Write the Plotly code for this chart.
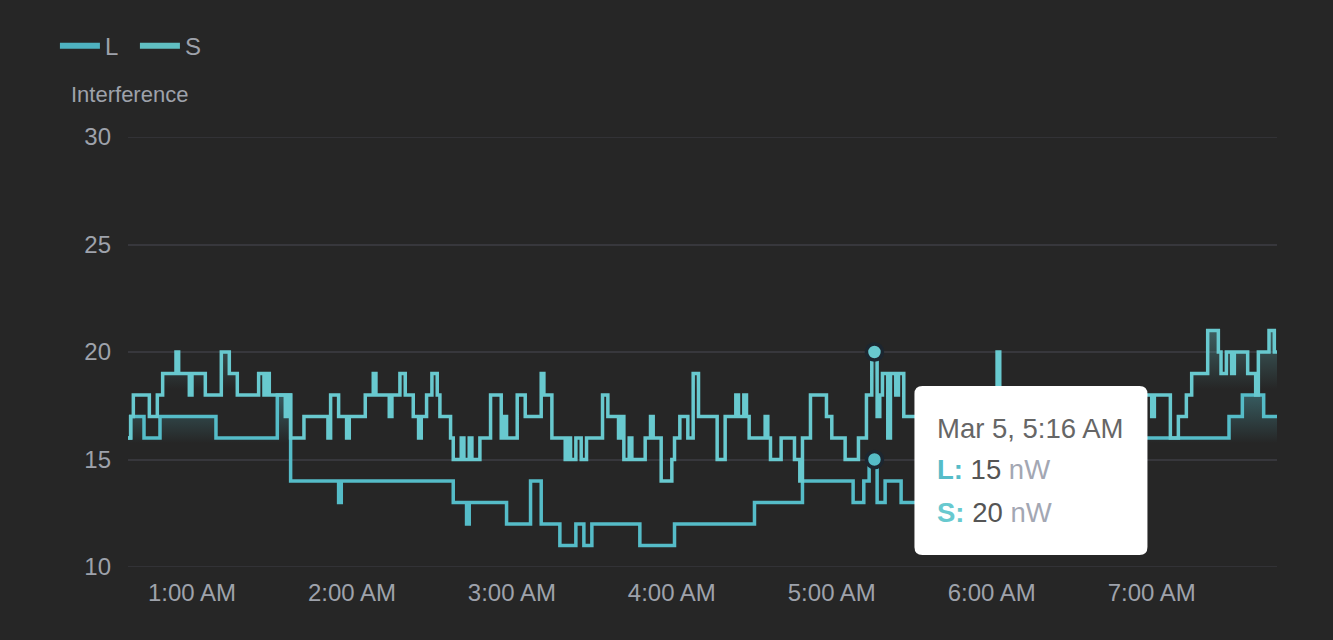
import pandas as pd
import plotly.graph_objects as go

day = "2024-03-05 "

# L series: time of each change and the new value
l_times = ["00:36", "00:37", "00:42", "00:48", "01:09", "01:32", "01:37", "01:55", "01:56",
           "02:38", "02:43", "02:44", "02:58", "03:07", "03:11", "03:18", "03:24", "03:27",
           "03:30", "03:48", "04:01", "04:31", "04:49", "05:08", "05:12", "05:14", "05:17",
           "05:20", "05:26", "05:40", "05:55", "06:10", "07:29", "07:34", "07:42", "07:47"]
l_values = [16, 17, 16, 17, 16, 18, 14, 13, 14,
            13, 12, 13, 12, 14, 12, 11, 12, 11,
            12, 11, 12, 13, 14, 13, 14, 15, 13,
            14, 13, 14, 15, 16, 17, 18, 17, 17]

# S series
s_times = ["00:36", "00:37", "00:38", "00:44", "00:47", "00:49", "00:54", "00:55", "00:59",
           "01:00", "01:05", "01:11", "01:14", "01:17", "01:25", "01:27", "01:28", "01:29",
           "01:35", "01:36", "01:37", "01:42", "01:51", "01:52", "01:55", "01:58", "01:59",
           "02:05", "02:08", "02:09", "02:14", "02:15", "02:18", "02:20", "02:23", "02:25",
           "02:26", "02:28", "02:30", "02:32", "02:33", "02:37", "02:38", "02:41", "02:42",
           "02:44", "02:45", "02:48", "02:52", "02:56", "02:57", "02:58", "03:02", "03:05",
           "03:11", "03:12", "03:15", "03:20", "03:21", "03:22", "03:24", "03:26", "03:28",
           "03:34", "03:36", "03:40", "03:41", "03:42", "03:44", "03:45", "03:50", "03:52",
           "03:53", "03:56", "04:00", "04:01", "04:03", "04:06", "04:08", "04:10", "04:17",
           "04:20", "04:24", "04:25", "04:27", "04:28", "04:29", "04:35", "04:36", "04:37",
           "04:41", "04:46", "04:48", "04:49", "04:52", "04:58", "05:00", "05:05", "05:10",
           "05:13", "05:15", "05:17", "05:18", "05:19", "05:21", "05:22", "05:24", "05:25",
           "05:27", "05:36", "05:45", "05:52", "06:02", "06:03", "06:15", "06:28", "06:45",
           "07:00", "07:01", "07:07", "07:10", "07:13", "07:15", "07:21", "07:25", "07:26",
           "07:28", "07:30", "07:31", "07:36", "07:39", "07:40", "07:44", "07:46", "07:47"]
s_values = [16, 17, 18, 17, 18, 19, 20, 19, 18,
            19, 18, 20, 19, 18, 19, 18, 19, 18,
            17, 18, 16, 17, 16, 18, 17, 16, 17,
            18, 19, 18, 17, 18, 19, 18, 17, 16,
            17, 18, 19, 18, 17, 16, 15, 16, 15,
            16, 15, 16, 18, 16, 17, 16, 18, 17,
            19, 18, 16, 15, 16, 15, 16, 15, 16,
            18, 17, 16, 17, 15, 16, 15, 16, 17,
            16, 14, 15, 16, 17, 16, 19, 17, 15,
            17, 18, 17, 18, 17, 16, 17, 16, 15,
            16, 15, 14, 16, 18, 17, 16, 15, 16,
            18, 20, 17, 18, 19, 16, 19, 18, 19,
            17, 16, 17, 16, 20, 17, 16, 17, 18,
            17, 18, 16, 17, 18, 19, 21, 20, 19,
            20, 19, 20, 19, 18, 20, 21, 20, 20]

y_ticks = [10, 15, 20, 25, 30]
hover_time = "05:16"
unit = "nW"

l_color = "#55bcc8"
s_color = "#68c9cf"
text_color = "#9ea2ab"
bg = "#262626"
grid = "#37373c"
font = "Liberation Sans, Arial, sans-serif"

l_x = pd.to_datetime([day + t for t in l_times])
s_x = pd.to_datetime([day + t for t in s_times])
hover_x = pd.Timestamp(day + hover_time)
l_hover = pd.Series(l_values, index=l_x).asof(hover_x)
s_hover = pd.Series(s_values, index=s_x).asof(hover_x)


def fill_trace(x, y, color, start, stop):
    r, g, b = (int(color[i:i + 2], 16) for i in (1, 3, 5))
    return go.Scatter(
        x=x, y=y, mode="lines", line=dict(width=0, shape="hv"),
        fill="tozeroy",
        fillgradient=dict(type="vertical", start=start, stop=stop,
                          colorscale=[[0, f"rgba({r},{g},{b},0)"],
                                      [1, f"rgba({r},{g},{b},0.35)"]]),
        hoverinfo="skip", showlegend=False)


fig = go.Figure()
fig.add_trace(fill_trace(l_x, l_values, l_color, 15.8, max(l_values)))
fig.add_trace(fill_trace(s_x, s_values, s_color, 18.3, max(s_values)))
fig.add_trace(go.Scatter(x=l_x, y=l_values, name="L", mode="lines", showlegend=False,
                         line=dict(color=l_color, width=3.5, shape="hv")))
fig.add_trace(go.Scatter(x=s_x, y=s_values, name="S", mode="lines", showlegend=False,
                         line=dict(color=s_color, width=3.5, shape="hv")))
# legend entries drawn with a thicker line
for name, color in [("L", "#4eb2c0"), ("S", "#60bfc2")]:
    fig.add_trace(go.Scatter(x=[None], y=[None], name=name, mode="lines",
                             line=dict(color=color, width=6)))
fig.add_trace(go.Scatter(x=[hover_x, hover_x], y=[s_hover, l_hover], mode="markers",
                         marker=dict(size=16, color=[s_color, l_color],
                                     line=dict(color="#1c2630", width=3.5)),
                         showlegend=False, hoverinfo="skip"))

for v in (y_ticks[0], y_ticks[-1]):
    fig.add_hline(y=v, line=dict(color=grid, width=1.5), layer="below")

# tooltip box (rounded rect in pixels, anchored at the hovered point)
box = ("M 48,-34 L 265,-34 Q 273,-34 273,-42 L 273,-195 Q 273,-203 265,-203 "
       "L 48,-203 Q 40,-203 40,-195 L 40,-42 Q 40,-34 48,-34 Z")
fig.add_shape(type="path", xref="x", yref="y", xsizemode="pixel", ysizemode="pixel",
              xanchor=hover_x, yanchor=s_hover, path=box,
              fillcolor="white", line=dict(width=0), layer="above")

tip_lines = [
    f"<span style='color:#666666'>Mar 5, {hover_x.strftime('%-I:%M %p')}</span>",
    f"<b style='color:{l_color}'>L:</b><span style='color:#555555'> {l_hover} </span>"
    f"<span style='color:#a3a7b3'>{unit}</span>",
    f"<b style='color:{s_color}'>S:</b><span style='color:#555555'> {s_hover} </span>"
    f"<span style='color:#a3a7b3'>{unit}</span>",
]
for txt, dy in zip(tip_lines, [-76, -117, -160]):
    fig.add_annotation(x=hover_x, y=s_hover, xref="x", yref="y", text=txt,
                       showarrow=False, xanchor="left", yanchor="middle",
                       xshift=61, yshift=dy, align="left",
                       font=dict(size=27.5, family=font))

fig.add_annotation(text="Interference", xref="paper", yref="paper", x=-0.0515, y=1.099,
                   xanchor="left", yanchor="middle", showarrow=False,
                   font=dict(size=22, color=text_color, family=font))

fig.update_layout(
    width=1333, height=640,
    paper_bgcolor=bg, plot_bgcolor=bg,
    margin=dict(l=128, r=56, t=137, b=73),
    font=dict(family=font, color=text_color, size=24),
    legend=dict(orientation="h", xref="container", yref="container",
                x=0.0412, y=0.928, xanchor="left", yanchor="middle",
                itemwidth=40, entrywidth=25, entrywidthmode="pixels",
                font=dict(size=24, color=text_color), bgcolor="rgba(0,0,0,0)"),
    xaxis=dict(range=[l_x[0], l_x[-1]], showgrid=False, zeroline=False,
               tickformat="%-I:%M %p", dtick=3600000, tick0=day + "01:00",
               tickfont=dict(size=24, color=text_color), ticks="",
               ticklabelstandoff=9),
    yaxis=dict(range=[y_ticks[0], y_ticks[-1]], tickvals=y_ticks, gridcolor=grid,
               gridwidth=1.5, zeroline=False, tickfont=dict(size=24, color=text_color),
               ticklabelstandoff=16),
    hovermode=False,
)

fig.write_html("out.html", config={"displayModeBar": False},
               post_script="document.body.style.margin='0';")
